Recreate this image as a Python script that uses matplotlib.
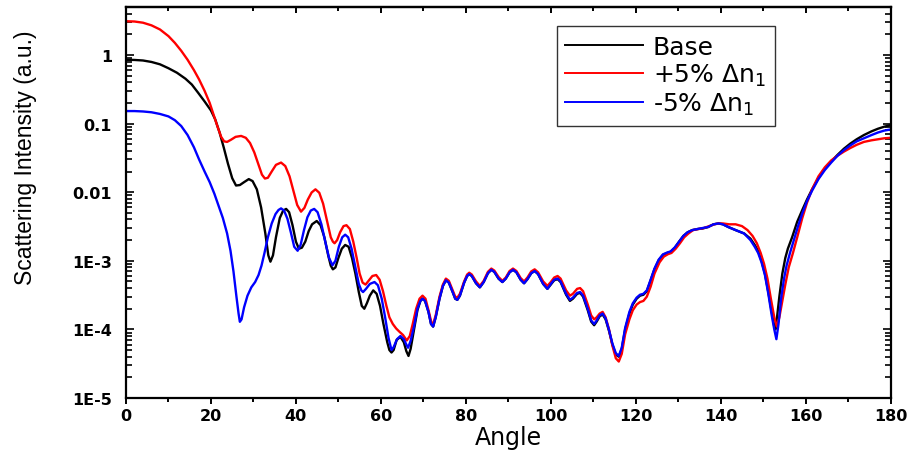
import matplotlib
matplotlib.use("Agg")
from matplotlib import pyplot as plt
from matplotlib.ticker import FixedLocator, FixedFormatter, LogLocator, MultipleLocator, NullFormatter

plt.rcParams["font.family"] = ["DejaVu Sans"]

# (angle, intensity) pairs for each curve
base_pts = [
    (0, 0.85), (2, 0.845), (4, 0.83), (6, 0.79), (8, 0.73), (10, 0.64), (12, 0.55), (14, 0.45),
    (15.5, 0.37), (17, 0.28), (18.5, 0.21), (20, 0.155), (21, 0.115), (22, 0.075), (23, 0.045),
    (24, 0.026), (25, 0.016), (25.9, 0.0125), (26.8, 0.0127), (27.8, 0.014), (28.9, 0.0155),
    (29.8, 0.0145), (30.8, 0.011), (31.8, 0.006), (32.8, 0.0025), (33.5, 0.0012), (34.0, 0.00097),
    (34.6, 0.0012), (35.3, 0.0022), (36.2, 0.0042), (37.0, 0.0054), (37.7, 0.0057), (38.4, 0.0051),
    (39.2, 0.0033), (40.0, 0.0019), (40.7, 0.0015), (41.4, 0.00155), (42.2, 0.0019), (43.0, 0.0027),
    (43.8, 0.0034), (44.9, 0.0038), (45.8, 0.0033), (46.7, 0.0022), (47.6, 0.0012), (48.2, 0.00085),
    (48.7, 0.00075), (49.3, 0.0008), (50.0, 0.0011), (50.8, 0.0015), (51.6, 0.0017), (52.4, 0.0016),
    (53.2, 0.0011), (54.0, 0.00065), (54.8, 0.00035), (55.5, 0.00022), (56.1, 0.0002),
    (56.7, 0.00024), (57.4, 0.00031), (58.2, 0.00037), (59.0, 0.00033), (59.8, 0.00022),
    (60.6, 0.00012), (61.5, 6.5e-05), (62.0, 5e-05), (62.5, 4.6e-05), (63.0, 5e-05), (63.7, 7e-05),
    (64.6, 7.8e-05), (65.4, 6.5e-05), (66.0, 4.8e-05), (66.5, 4.1e-05), (67.0, 5.2e-05),
    (67.8, 0.0001), (68.6, 0.00019), (69.3, 0.00026), (69.8, 0.00028), (70.4, 0.00026),
    (71.2, 0.00018), (71.8, 0.00012), (72.3, 0.00011), (72.9, 0.00015), (73.8, 0.00028),
    (74.6, 0.00043), (75.3, 0.00052), (76.0, 0.00048), (76.9, 0.00035), (77.5, 0.00028),
    (78.0, 0.00027), (78.6, 0.00031), (79.6, 0.00048), (80.3, 0.0006), (80.8, 0.00064),
    (81.4, 0.0006), (82.4, 0.00047), (83.3, 0.00041), (84.2, 0.00049), (85.2, 0.00066),
    (86.0, 0.00074), (86.7, 0.00069), (87.7, 0.00055), (88.6, 0.00049), (89.4, 0.00055),
    (90.3, 0.00068), (91.1, 0.00074), (91.9, 0.00068), (92.9, 0.00053), (93.7, 0.00047),
    (94.5, 0.00054), (95.4, 0.00066), (96.2, 0.00071), (97.0, 0.00064), (98.2, 0.00046),
    (99.2, 0.00039), (100.0, 0.00045), (100.8, 0.00052), (101.6, 0.00054), (102.3, 0.00049),
    (103.6, 0.00032), (104.5, 0.00026), (105.2, 0.00028), (106.2, 0.00033), (106.9, 0.00034),
    (107.6, 0.0003), (108.7, 0.00019), (109.5, 0.00013), (110.2, 0.000115), (110.8, 0.00013),
    (111.5, 0.000155), (112.2, 0.000165), (112.9, 0.00014), (113.7, 9.5e-05), (114.5, 6e-05),
    (115.3, 4.3e-05), (116.0, 4e-05), (116.7, 5.2e-05), (117.5, 0.0001), (118.5, 0.00017),
    (119.3, 0.00023), (120.2, 0.00028), (121.0, 0.00031), (121.8, 0.00032), (122.6, 0.00036),
    (123.5, 0.00052), (124.4, 0.00075), (125.4, 0.00102), (126.4, 0.00122), (127.4, 0.0013),
    (128.2, 0.00135), (129.2, 0.00155), (130.2, 0.0019), (131.2, 0.0023), (132.2, 0.0026),
    (133.3, 0.0028), (134.5, 0.0029), (135.7, 0.00295), (137, 0.0031), (138.3, 0.0034),
    (139.5, 0.0035), (140.5, 0.0034), (141.8, 0.0031), (143.5, 0.0028), (145.5, 0.0025),
    (147, 0.0021), (148, 0.0017), (148.8, 0.0014), (149.6, 0.001), (150.4, 0.00065),
    (151.2, 0.00035), (152.0, 0.00018), (152.6, 0.00011), (152.9, 0.0001), (153.3, 0.00016),
    (153.8, 0.0003), (154.5, 0.00065), (155.2, 0.0011), (155.8, 0.0015), (156.8, 0.0022),
    (158.0, 0.0037), (159.2, 0.0055), (160.3, 0.0078), (161.5, 0.011), (163, 0.016), (164.5, 0.022),
    (166, 0.028), (167.5, 0.035), (169, 0.043), (170.5, 0.051), (172, 0.059), (173.7, 0.068),
    (175.5, 0.077), (177, 0.084), (178.5, 0.09), (180, 0.095),
]

plus_pts = [
    (0, 3.1), (2, 3.07), (4, 2.95), (6, 2.7), (8, 2.35), (10, 1.88), (11.5, 1.5), (13, 1.15),
    (14.5, 0.85), (16, 0.6), (17.2, 0.44), (18.5, 0.3), (19.7, 0.2), (20.7, 0.13), (21.6, 0.088),
    (22.4, 0.064), (23.1, 0.055), (23.8, 0.054), (24.7, 0.058), (25.8, 0.064), (27.1, 0.066),
    (28.2, 0.062), (29.2, 0.052), (30.2, 0.038), (31.2, 0.025), (32.0, 0.018), (32.7, 0.0158),
    (33.4, 0.0162), (34.3, 0.02), (35.3, 0.025), (36.5, 0.027), (37.5, 0.024), (38.5, 0.017),
    (39.4, 0.0105), (40.3, 0.0065), (41.2, 0.0052), (42.0, 0.0059), (42.8, 0.0078), (43.7, 0.0099),
    (44.6, 0.011), (45.5, 0.0098), (46.4, 0.0068), (47.3, 0.0039), (48.2, 0.0022), (48.7, 0.0019),
    (49.1, 0.0018), (49.7, 0.002), (50.4, 0.0026), (51.2, 0.0032), (51.9, 0.0033), (52.7, 0.0029),
    (53.5, 0.0019), (54.3, 0.0011), (55.0, 0.00065), (55.7, 0.00048), (56.4, 0.00045),
    (57.2, 0.00052), (58.0, 0.0006), (58.9, 0.00062), (59.7, 0.00053), (60.5, 0.00036),
    (61.3, 0.00022), (62.0, 0.00015), (62.8, 0.00012), (63.6, 0.000103), (64.4, 9.2e-05),
    (65.2, 8.3e-05), (66.1, 6.9e-05), (66.8, 8e-05), (67.5, 0.00012), (68.3, 0.0002),
    (69.1, 0.00028), (69.8, 0.00031), (70.5, 0.00028), (71.3, 0.00018), (71.9, 0.000125),
    (72.3, 0.00012), (72.9, 0.00016), (73.8, 0.0003), (74.6, 0.00045), (75.3, 0.00055),
    (76.0, 0.00051), (76.9, 0.00037), (77.5, 0.0003), (78.0, 0.00029), (78.6, 0.00033),
    (79.6, 0.0005), (80.3, 0.00063), (80.8, 0.00067), (81.4, 0.00063), (82.4, 0.0005),
    (83.3, 0.00043), (84.2, 0.00051), (85.2, 0.00069), (86.0, 0.00077), (86.7, 0.00072),
    (87.7, 0.00058), (88.6, 0.00051), (89.4, 0.00057), (90.3, 0.00071), (91.1, 0.00077),
    (91.9, 0.00071), (92.9, 0.00056), (93.7, 0.0005), (94.5, 0.00057), (95.4, 0.0007),
    (96.2, 0.00075), (97.0, 0.00068), (98.2, 0.0005), (99.2, 0.00043), (100.0, 0.00049),
    (100.8, 0.00057), (101.6, 0.0006), (102.3, 0.00055), (103.6, 0.00037), (104.5, 0.00031),
    (105.2, 0.00033), (106.2, 0.00039), (106.9, 0.0004), (107.6, 0.00036), (108.7, 0.00023),
    (109.5, 0.00016), (110.2, 0.00014), (110.8, 0.00015), (111.5, 0.00017), (112.2, 0.00018),
    (112.9, 0.00015), (113.7, 0.0001), (114.5, 5.8e-05), (115.3, 3.8e-05), (116.0, 3.4e-05),
    (116.7, 4.4e-05), (117.5, 8.5e-05), (118.5, 0.00014), (119.3, 0.00019), (120.2, 0.00023),
    (121.0, 0.00025), (121.8, 0.00026), (122.6, 0.0003), (123.5, 0.00042), (124.4, 0.00065),
    (125.6, 0.00095), (126.6, 0.00115), (127.6, 0.00125), (128.4, 0.0013), (129.4, 0.0015),
    (130.4, 0.0018), (131.4, 0.0022), (132.4, 0.0025), (133.5, 0.0028), (134.7, 0.0029),
    (136, 0.003), (137.3, 0.0032), (138.5, 0.0034), (139.5, 0.0035), (140.5, 0.0035),
    (142, 0.0034), (143.5, 0.0034), (145, 0.0032), (146.3, 0.0028), (147.5, 0.0023),
    (148.5, 0.0018), (149.4, 0.0013), (150.2, 0.0009), (151, 0.00055), (151.8, 0.00028),
    (152.6, 0.00015), (153.2, 0.00011), (153.8, 0.00015), (154.5, 0.00026), (155.2, 0.00045),
    (156, 0.0008), (157, 0.0013), (158, 0.0022), (159.2, 0.0042), (160.3, 0.007), (161.5, 0.011),
    (163, 0.017), (164.5, 0.023), (166, 0.029), (167.5, 0.034), (169, 0.039), (170.5, 0.044),
    (172, 0.049), (173.7, 0.054), (175.5, 0.057), (177, 0.059), (178.5, 0.061), (180, 0.062),
]

minus_pts = [
    (0, 0.152), (2, 0.152), (4, 0.15), (6, 0.146), (8, 0.138), (10, 0.127), (11.5, 0.112),
    (13, 0.092), (14.5, 0.068), (16, 0.045), (17.2, 0.03), (18.5, 0.02), (19.7, 0.014),
    (20.8, 0.0095), (21.8, 0.0063), (22.8, 0.0042), (23.8, 0.0025), (24.6, 0.0014), (25.3, 0.0007),
    (26.0, 0.0003), (26.5, 0.00017), (26.8, 0.000129), (27.2, 0.00014), (27.8, 0.00021),
    (28.6, 0.00031), (29.5, 0.00041), (30.4, 0.00049), (31.2, 0.00062), (31.9, 0.00085),
    (32.6, 0.0013), (33.4, 0.0022), (34.3, 0.0035), (35.2, 0.0048), (35.9, 0.0055), (36.5, 0.0058),
    (37.2, 0.0054), (38.0, 0.0041), (38.8, 0.0026), (39.6, 0.0016), (40.4, 0.0014), (41.1, 0.0017),
    (41.9, 0.0028), (42.7, 0.0043), (43.5, 0.0054), (44.3, 0.0057), (45.1, 0.0051), (46.0, 0.0034),
    (46.9, 0.0019), (47.8, 0.0011), (48.6, 0.00086), (49.3, 0.001), (50.1, 0.0016), (50.9, 0.0022),
    (51.6, 0.0024), (52.3, 0.0022), (53.1, 0.0015), (54.0, 0.0008), (54.8, 0.00046),
    (55.4, 0.00037), (55.8, 0.00035), (56.5, 0.00039), (57.4, 0.00046), (58.5, 0.00049),
    (59.3, 0.00044), (60.2, 0.00028), (61.0, 0.00015), (61.8, 7.5e-05), (62.5, 5e-05),
    (63.0, 5.5e-05), (63.8, 7.2e-05), (64.6, 8e-05), (65.4, 7.2e-05), (66.0, 6e-05),
    (66.4, 5.4e-05), (67.0, 6.8e-05), (67.8, 0.00011), (68.6, 0.0002), (69.3, 0.00026),
    (69.8, 0.00028), (70.4, 0.00026), (71.2, 0.00018), (71.8, 0.00012), (72.3, 0.00011),
    (72.9, 0.00015), (73.8, 0.00028), (74.6, 0.00043), (75.3, 0.00052), (76.0, 0.00048),
    (76.9, 0.00035), (77.5, 0.00028), (78.0, 0.00027), (78.6, 0.00031), (79.6, 0.00048),
    (80.3, 0.0006), (80.8, 0.00064), (81.4, 0.0006), (82.4, 0.00047), (83.3, 0.00041),
    (84.2, 0.00049), (85.2, 0.00066), (86.0, 0.00074), (86.7, 0.00069), (87.7, 0.00055),
    (88.6, 0.00049), (89.4, 0.00055), (90.3, 0.00068), (91.1, 0.00074), (91.9, 0.00068),
    (92.9, 0.00053), (93.7, 0.00047), (94.5, 0.00054), (95.4, 0.00066), (96.2, 0.00071),
    (97.0, 0.00064), (98.2, 0.00046), (99.2, 0.00039), (100.0, 0.00046), (100.8, 0.00053),
    (101.6, 0.00055), (102.3, 0.0005), (103.6, 0.00033), (104.5, 0.00027), (105.2, 0.00029),
    (106.2, 0.00034), (106.9, 0.00035), (107.6, 0.00031), (108.7, 0.0002), (109.5, 0.000135),
    (110.2, 0.00012), (110.8, 0.000135), (111.5, 0.00016), (112.2, 0.00017), (112.9, 0.000145),
    (113.7, 9.8e-05), (114.5, 6.2e-05), (115.3, 4.5e-05), (116.0, 4.1e-05), (116.7, 5.4e-05),
    (117.5, 0.000105), (118.5, 0.00018), (119.3, 0.00024), (120.2, 0.00029), (121.0, 0.00032),
    (121.8, 0.00033), (122.6, 0.00037), (123.5, 0.00053), (124.4, 0.00077), (125.4, 0.00104),
    (126.4, 0.00124), (127.4, 0.00132), (128.2, 0.00137), (129.2, 0.00157), (130.2, 0.0019),
    (131.2, 0.0023), (132.2, 0.0026), (133.3, 0.0028), (134.5, 0.0029), (135.7, 0.003),
    (137, 0.0031), (138.3, 0.0034), (139.5, 0.0035), (140.5, 0.0034), (141.8, 0.0031),
    (143.5, 0.0028), (145.5, 0.0025), (147, 0.002), (148, 0.0016), (148.8, 0.0013), (149.6, 0.00095),
    (150.4, 0.00062), (151.2, 0.00033), (152.0, 0.00016), (152.6, 0.0001), (153.1, 7.2e-05),
    (153.6, 0.00012), (154.2, 0.00028), (154.9, 0.00055), (155.5, 0.00085), (156.3, 0.0013),
    (157.2, 0.002), (158.2, 0.0032), (159.2, 0.0049), (160.3, 0.0074), (161.5, 0.0105),
    (163, 0.0155), (164.5, 0.021), (166, 0.027), (167.5, 0.034), (169, 0.041), (170.5, 0.048),
    (172, 0.055), (173.7, 0.061), (175.5, 0.068), (177, 0.074), (178.5, 0.079), (180, 0.082),
]

series_labels = ["Base", "+5% $\\mathregular{\\Delta n_1}$", "-5% $\\mathregular{\\Delta n_1}$"]
series_colors = ["black", "red", "blue"]

y_ticks = [1e-5, 1e-4, 1e-3, 1e-2, 1e-1, 1]
y_tick_labels = ["1E-5", "1E-4", "1E-3", "0.01", "0.1", "1"]

fig = plt.figure(figsize=(9.15, 4.56), dpi=100)
ax = fig.add_axes([0.1377, 0.125, 0.8357, 0.8575])

for pts, col, lab in zip([base_pts, plus_pts, minus_pts], series_colors, series_labels):
    angle, inten = zip(*pts)
    ax.plot(angle, inten, color=col, lw=1.7, label=lab)

ax.set_yscale("log")
ax.set_xlim(0, 180)
ax.set_ylim(1e-5, 5)

ax.xaxis.set_major_locator(MultipleLocator(20))
ax.xaxis.set_minor_locator(MultipleLocator(10))
ax.yaxis.set_major_locator(FixedLocator(y_ticks))
ax.yaxis.set_major_formatter(FixedFormatter(y_tick_labels))
ax.yaxis.set_minor_locator(LogLocator(base=10, subs=range(2, 10)))
ax.yaxis.set_minor_formatter(NullFormatter())

for side in ["left", "right", "top", "bottom"]:
    ax.spines[side].set_linewidth(1.6)

ax.tick_params(axis="x", which="both", bottom=True, top=False, direction="out", width=1.4, pad=3)
ax.tick_params(axis="x", which="major", length=4)
ax.tick_params(axis="x", which="minor", length=3)
ax.tick_params(axis="y", which="both", left=True, right=True, direction="in", width=1.2, pad=10)
ax.tick_params(axis="y", which="major", length=6)
ax.tick_params(axis="y", which="minor", length=4)
ax.tick_params(labelsize=11.5)
for lbl in ax.get_xticklabels() + ax.get_yticklabels():
    lbl.set_fontweight("bold")

# top axis carries ticks pointing into the plot
top = ax.secondary_xaxis("top")
top.xaxis.set_major_locator(MultipleLocator(20))
top.xaxis.set_minor_locator(MultipleLocator(10))
top.tick_params(which="both", direction="in", width=1.4, labeltop=False)
top.tick_params(which="major", length=4)
top.tick_params(which="minor", length=3)
top.spines["top"].set_linewidth(1.6)

ax.set_xlabel("Angle", fontsize=17)
ax.xaxis.set_label_coords(0.5, -0.07)
ax.set_ylabel("Scattering Intensity (a.u.)", fontsize=16.5, family=["Liberation Sans", "DejaVu Sans"])
ax.yaxis.set_label_coords(-0.117, 0.616)

leg = ax.legend(loc="upper left", bbox_to_anchor=(0.5632, 0.9507), borderaxespad=0, fontsize=18,
                frameon=True, fancybox=False, handlelength=3.1, handletextpad=0.4, borderpad=0.35,
                labelspacing=0.12)
leg.get_frame().set_edgecolor("black")
leg.get_frame().set_linewidth(1.0)
for h in leg.get_lines():
    h.set_linewidth(1.4)

fig.savefig("out.png", dpi=100)
